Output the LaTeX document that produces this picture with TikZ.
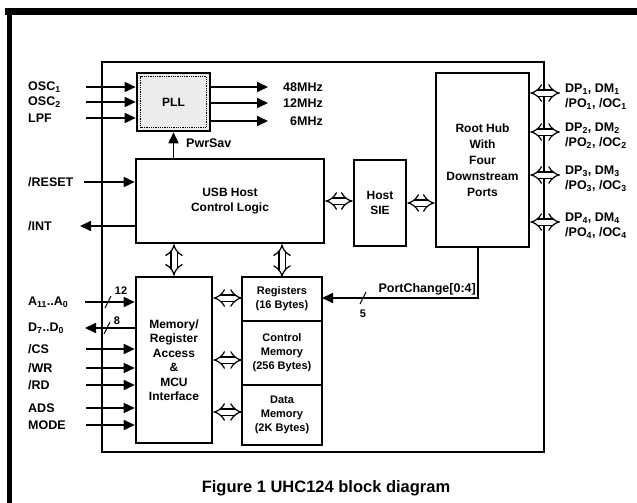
\documentclass[tikz,border=0pt]{standalone}
\usepackage{fontspec}
\setmainfont{Liberation Sans}
\usetikzlibrary{arrows.meta}
\usetikzlibrary{calc}

\tikzset{
  blk/.style={draw, line width=2.6pt, align=center, inner sep=0pt,
    font=\bfseries\fontsize{12}{15}\selectfont},
  memblk/.style={blk, outer sep=0pt, minimum width=80pt,
    font=\bfseries\fontsize{11}{14}\selectfont},
  lbl/.style={anchor=west, inner sep=0pt, font=\bfseries\fontsize{12.5}{15}\selectfont},
  sig/.style={line width=1.7pt, -{Triangle[length=11pt,width=10pt]}},
  bus/.style={double, double distance=5pt, line width=1.2pt, {Implies}-{Implies}},
  tick/.style={line width=1pt},
}

\begin{document}
\begin{tikzpicture}[x=1pt, y=-1pt]
    \useasboundingbox (0,0) rectangle (637,503);
    % page frame
    \draw[line width=7pt] (5,11.5) -- (637,11.5);
    \draw[line width=4.5pt] (9.5,8) -- (9.5,503);
    % chip outline
    \draw[line width=2.4pt] (102,62) rectangle (544,452);

    % blocks
    \node[blk, fill=gray!15, minimum width=73pt, minimum height=58pt] (pll) at (173.5,102) {PLL};
    \draw[line width=0.8pt, densely dotted] ($(pll.south west)+(5,-5)$) rectangle ($(pll.north east)+(-5,5)$);
    \node[blk, minimum width=188pt, minimum height=84pt] (usb) at (230,201) {USB Host\\Control Logic};
    \node[blk, minimum width=52pt, minimum height=86pt] (sie) at (380,203) {Host\\SIE};
    \node[blk, minimum width=93pt, minimum height=174pt, font=\bfseries\fontsize{12}{16}\selectfont] (hub) at (482.5,160) {Root Hub\\With\\Four\\Downstream\\Ports};
    \node[blk, minimum width=76pt, minimum height=166pt, font=\bfseries\fontsize{12}{14.5}\selectfont] (mcu) at (174,360) {Memory/\\Register\\Access\\\&\\MCU\\Interface};
    \node[memblk, minimum height=44pt] (reg) at (282,299) {Registers\\(16 Bytes)};
    \node[memblk, minimum height=64pt, anchor=north] (ctl) at (reg.south) {Control\\Memory\\(256 Bytes)};
    \node[memblk, minimum height=60pt, anchor=north] (dat) at (ctl.south) {Data\\Memory\\(2K Bytes)};

    % clock inputs and outputs
    \foreach \i/\y/\t in {1/87/OSC\textsubscript{1}, 2/102/OSC\textsubscript{2}, 3/118/LPF} {
    \node[lbl] (clk\i) at (28,\y) {\t};
    \coordinate (c\i) at (86,\y);
    \draw[sig] (c\i) -- (c\i -| pll.west);
    }
    \foreach \i/\y/\t in {1/87/48MHz, 2/103/12MHz, 3/121/6MHz} {
    \coordinate (o\i) at (268,\y);
    \draw[sig] (o\i -| pll.east) -- (o\i);
    \node[lbl, anchor=east] (f\i) at (323,\y) {\t};
    }
    \draw[sig] (pll.south |- usb.north) -- (pll.south);
    \node[lbl] (pwr) at (186,143) {PwrSav};

    % reset and interrupt
    \node[lbl] (rst) at (28,182) {/RESET};
    \coordinate (r0) at (84,182);
    \draw[sig] (r0) -- (r0 -| usb.west);
    \node[lbl] (int) at (28,226) {/INT};
    \coordinate (i0) at (80,226);
    \draw[sig] (i0 -| usb.west) -- (i0);

    % internal buses
    \draw[bus] (usb.east) -- (usb.east -| sie.west);
    \draw[bus] (sie.east) -- (sie.east -| hub.west);
    \draw[bus] (mcu.north) -- (mcu.north |- usb.south);
    \draw[bus] (reg.north) -- (reg.north |- usb.south);
    \foreach \j/\y in {1/298, 2/360, 3/412} {
    \coordinate (b\j) at (0,\y);
    \draw[bus] (b\j -| mcu.east) -- (b\j -| reg.west);
    }

    % downstream ports
    \foreach \i/\y in {1/93, 2/132, 3/175, 4/222} {
    \coordinate (p\i) at (560,\y);
    \draw[bus] (p\i -| hub.east) -- (p\i);
    \node[lbl, align=left] (port\i) at (565,\y+4) {DP\textsubscript{\i}, DM\textsubscript{\i}\\/PO\textsubscript{\i}, /OC\textsubscript{\i}};
    }

    % port change status
    \coordinate (pc) at (478,298);
    \draw[sig] (hub.south -| pc) -- (pc) -- (pc -| reg.east);
    \node[lbl, anchor=south east] (pcl) at (476,295) {PortChange[0:4]};
    \draw[tick] (363,298) ++(-3,6) -- ++(6,-12);
    \node[lbl, anchor=center, font=\bfseries\fontsize{11}{13}\selectfont] (n5) at (363,314) {5};

    % MCU interface
    \node[lbl] (adr) at (28,302) {A\textsubscript{11}..A\textsubscript{0}};
    \coordinate (a0) at (85,302);
    \draw[sig] (a0) -- (a0 -| mcu.west);
    \draw[tick] (108,302) ++(-3,6) -- ++(6,-12);
    \node[lbl, anchor=center, font=\bfseries\fontsize{11}{13}\selectfont] (n12) at (121,291) {12};
    \node[lbl] (dta) at (28,328) {D\textsubscript{7}..D\textsubscript{0}};
    \coordinate (d0) at (85,328);
    \draw[sig, {Triangle[length=11pt,width=10pt]}-] (d0) -- (d0 -| mcu.west);
    \draw[tick] (107,328) ++(-3,6) -- ++(6,-12);
    \node[lbl, anchor=center, font=\bfseries\fontsize{11}{13}\selectfont] (n8) at (117,321) {8};
    \foreach \i/\y/\t in {1/349/{/CS}, 2/368/{/WR}, 3/385/{/RD}, 4/408/ADS, 5/425/MODE} {
    \node[lbl] (ctl\i) at (28,\y) {\t};
    \coordinate (m\i) at (86,\y);
    \draw[sig] (m\i) -- (m\i -| mcu.west);
    }

    \node[font=\bfseries\fontsize{16.5}{18}\selectfont] (cap) at (326,488) {Figure 1 UHC124 block diagram};
\end{tikzpicture}
\end{document}
